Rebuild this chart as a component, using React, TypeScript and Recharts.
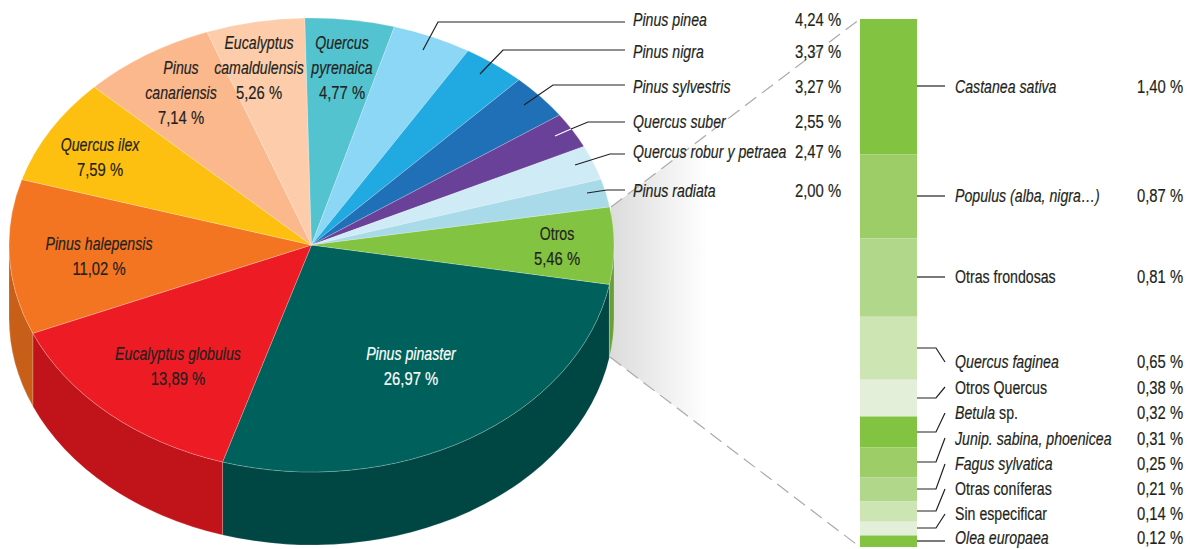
import React from 'react';
import { PieChart, Pie, BarChart, Bar, XAxis, YAxis } from 'recharts';

// main pie: share of each species, clockwise from the Otros / Pinus pinaster edge
const pieNames = ['Pinus pinaster', 'Eucalyptus globulus', 'Pinus halepensis', 'Quercus ilex', 'Pinus canariensis', 'Eucalyptus camaldulensis', 'Quercus pyrenaica', 'Pinus pinea', 'Pinus nigra', 'Pinus sylvestris', 'Quercus suber', 'Quercus robur y petraea', 'Pinus radiata', 'Otros'];
const pieValues = [26.97, 13.89, 11.02, 7.59, 7.14, 5.26, 4.77, 4.24, 3.37, 3.27, 2.55, 2.47, 2.0, 5.46];
const pieColors = ['#00615c', '#ed1c24', '#f47521', '#fdc010', '#fbb88c', '#fdcdab', '#53c3d0', '#8cd6f6', '#21a9e1', '#2070b8', '#6a4198', '#cfebf5', '#a8dae9', '#82c341'];
const wallColors = ['#004643', '#c1141a', '#c75f18', '#c99a0c', '#c9936f', '#caa489', '#429ca6', '#70abc5', '#1a87b4', '#195a93', '#55347a', '#a5bcc4', '#86aeba', '#6b9f36'];

// stacked bar: breakdown of Otros
const barNames = ['Castanea sativa', 'Populus (alba, nigra…)', 'Otras frondosas', 'Quercus faginea', 'Otros Quercus', 'Betula', 'Junip. sabina, phoenicea', 'Fagus sylvatica', 'Otras coníferas', 'Sin especificar', 'Olea europaea'];
const barValues = [1.4, 0.87, 0.81, 0.65, 0.38, 0.32, 0.31, 0.25, 0.21, 0.14, 0.12];
const barColors = ['#82c341', '#9ccd66', '#b1d78a', '#cde5b3', '#e3efd9', '#82c341', '#9ccd66', '#b1d78a', '#cde5b3', '#e3efd9', '#82c341'];
const barItalic = [true, true, false, true, false, true, true, true, false, false, true];

const FONT = '"Liberation Sans", sans-serif';
const INK = '#231f20';
const RATIO = 227 / 302.5;
const DEPTH = 73;
// no condensed face installed, so the text gets squeezed horizontally
const SQUEEZE = 0.745;
const SQUEEZE_NUM = 0.78;

const pct = (v: number) => v.toFixed(2).replace('.', ',') + ' %';

const pieData = pieNames.map((name, i) => ({ name, value: pieValues[i], fill: pieColors[i] }));
const wallData = pieNames.map((name, i) => ({ name, value: pieValues[i], fill: wallColors[i] }));
const barRow = [Object.fromEntries(barNames.map((n, i) => [n, barValues[i]]))];

const pt = (cx: number, cy: number, r: number, a: number) => {
  const t = (-a * Math.PI) / 180;
  return [cx + r * Math.cos(t), cy + r * RATIO * Math.sin(t)];
};

// recharts sector squashed into an ellipse
const TopSlice = (p: any) => {
  const [x1, y1] = pt(p.cx, p.cy, p.outerRadius, p.startAngle);
  const [x2, y2] = pt(p.cx, p.cy, p.outerRadius, p.endAngle);
  const big = Math.abs(p.startAngle - p.endAngle) > 180 ? 1 : 0;
  const rx = p.outerRadius;
  const d = `M${p.cx},${p.cy}L${x1},${y1}A${rx},${rx * RATIO} 0 ${big} 1 ${x2},${y2}Z`;
  return <path d={d} fill={p.fill} stroke="#fff" strokeOpacity={0.35} strokeWidth={0.6} />;
};

// the side of the disc, only where the rim faces the viewer
const WallSlice = (p: any) => {
  const rx = p.outerRadius;
  const ry = rx * RATIO;
  let d = '';
  for (const k of [0, -360]) {
    const s = Math.min(p.startAngle, k);
    const e = Math.max(p.endAngle, k - 180);
    if (s <= e) continue;
    const [x1, y1] = pt(p.cx, p.cy, rx, s);
    const [x2, y2] = pt(p.cx, p.cy, rx, e);
    d += `M${x1},${y1}A${rx},${ry} 0 0 1 ${x2},${y2}L${x2},${y2 + DEPTH}A${rx},${ry} 0 0 0 ${x1},${y1 + DEPTH}Z`;
  }
  return <path d={d} fill={p.fill} stroke="#fff" strokeOpacity={0.3} strokeWidth={0.6} />;
};

const Label = ({ x, y, children, anchor = 'start', italic = false, num = false, fill = INK }: any) => (
  <text
    transform={`translate(${x},${y + 5.5}) scale(${num ? SQUEEZE_NUM : SQUEEZE},1)`}
    textAnchor={anchor}
    fontStyle={italic ? 'italic' : 'normal'}
    fill={fill}
    stroke={fill}
    strokeWidth={0.2}
    fontFamily={FONT}
    fontSize={19}
  >
    {children}
  </text>
);

// label placement, same order as the arrays above
const insideLabels: { lines: string[]; idx: number; x: number; y: number; fill?: string }[] = [
  { lines: ['Pinus pinaster'], idx: 0, x: 411, y: 354, fill: '#fff' },
  { lines: ['Eucalyptus globulus'], idx: 1, x: 178, y: 354 },
  { lines: ['Pinus halepensis'], idx: 2, x: 99, y: 244 },
  { lines: ['Quercus ilex'], idx: 3, x: 100, y: 145 },
  { lines: ['Pinus', 'canariensis'], idx: 4, x: 181, y: 68 },
  { lines: ['Eucalyptus', 'camaldulensis'], idx: 5, x: 259, y: 43 },
  { lines: ['Quercus', 'pyrenaica'], idx: 6, x: 342, y: 43 },
  { lines: ['Otros'], idx: 13, x: 557, y: 234 },
];
const outsideY = [20, 52, 87, 122, 152, 191];
const outsideLeaders = ['423,50 438,22 625,22', '480,74 503,50 625,50', '524,105 553,85 625,85', '571,129 588,122 625,122', '575,165 610,154 625,154', '587,193 607,190 625,190'];
const barLabelY = [87, 196, 277, 362, 388, 413, 439, 464, 489, 514, 538.5];
const barLeaders = ['917,86 945,86', '917,196 945,196', '917,277 945,277', '917,348 936,348 945,362', '917,398 936,398 945,387', '917,432 936,432 945,413', '917,462 936,462 945,438', '917,489 936,489 945,464', '917,511 936,511 945,489', '917,528 936,528 945,514', '917,541 945,541'];

const layer: React.CSSProperties = { position: 'absolute', left: 0, top: 0 };

export default function App() {
  return (
    <div style={{ position: 'absolute', left: 0, top: 0, width: 1190, height: 549, overflow: 'hidden', background: '#fff' }}>
      <svg width={1190} height={549} style={layer}>
        <defs>
          <linearGradient id="funnel" gradientUnits="userSpaceOnUse" x1={612} y1={0} x2={708} y2={0}>
            <stop offset="0" stopColor="#dcdcdc" />
            <stop offset="1" stopColor="#fff" />
          </linearGradient>
        </defs>
        <polygon points="611,207 860,19 860,547 610,357" fill="url(#funnel)" />
        <g stroke="#aaa" strokeWidth={1.2} strokeDasharray="14 7">
          <line x1={611} y1={207} x2={860} y2={19} />
          <line x1={610} y1={357} x2={860} y2={547} />
        </g>
      </svg>

      <div style={layer}>
        <PieChart width={1190} height={549} margin={{ top: 0, right: 0, bottom: 0, left: 0 }}>
          <Pie data={wallData} dataKey="value" nameKey="name" cx={311.5} cy={245} outerRadius={302.5} startAngle={-10} endAngle={-370} shape={WallSlice} isAnimationActive={false} />
          <Pie data={pieData} dataKey="value" nameKey="name" cx={311.5} cy={245} outerRadius={302.5} startAngle={-10} endAngle={-370} shape={TopSlice} isAnimationActive={false} />
        </PieChart>
      </div>

      <div style={{ position: 'absolute', left: 860, top: 19 }}>
        <BarChart width={57} height={528} data={barRow} margin={{ top: 0, right: 0, bottom: 0, left: 0 }} barCategoryGap={0}>
          <XAxis type="category" hide />
          <YAxis type="number" hide reversed domain={[0, 5.46]} />
          {barNames.map((n, i) => (
            <Bar key={n} dataKey={n} stackId="otros" fill={barColors[i]} isAnimationActive={false} />
          ))}
        </BarChart>
      </div>

      <svg width={1190} height={549} style={layer}>
        <g fill="none" stroke={INK} strokeWidth={1.2}>
          {outsideLeaders.map(p => <polyline key={p} points={p} />)}
          {barLeaders.map(p => <polyline key={p} points={p} />)}
          <line x1={555} y1={136} x2={571} y2={129} stroke="#fff" />
        </g>

        {insideLabels.map(l => (
          <g key={l.idx}>
            {l.lines.map((s, j) => (
              <Label key={s} x={l.x} y={l.y + j * 25} anchor="middle" italic={l.idx !== 13} fill={l.fill}>{s}</Label>
            ))}
            <Label x={l.x} y={l.y + l.lines.length * 25} anchor="middle" num fill={l.fill}>{pct(pieValues[l.idx])}</Label>
          </g>
        ))}

        {outsideY.map((y, i) => (
          <g key={y}>
            <Label x={633} y={y} italic>{pieNames[7 + i]}</Label>
            <Label x={795} y={y} num>{pct(pieValues[7 + i])}</Label>
          </g>
        ))}

        {barNames.map((n, i) => (
          <g key={n}>
            <Label x={955} y={barLabelY[i]} italic={barItalic[i]}>
              {n}
              {n === 'Betula' && <tspan fontStyle="normal"> sp.</tspan>}
            </Label>
            <Label x={1137} y={barLabelY[i]} num>{pct(barValues[i])}</Label>
          </g>
        ))}
      </svg>
    </div>
  );
}
